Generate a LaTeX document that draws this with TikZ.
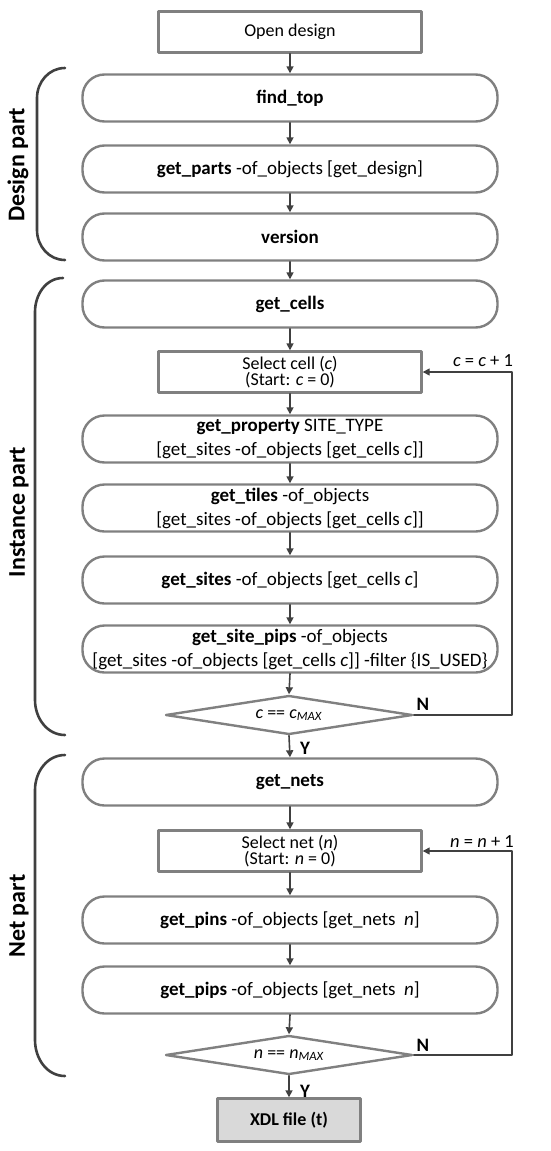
\documentclass[tikz,border=0pt]{standalone}
\usepackage{fontspec}
\setmainfont{Carlito}
\usetikzlibrary{arrows.meta,shapes.geometric}

\begin{document}
\begin{tikzpicture}[x=1pt, y=-1pt, line cap=round, line join=round,
  box/.style={draw=black!50, line width=2.4pt, minimum width=263pt, minimum height=41pt,
    inner sep=1pt, align=center, font=\fontsize{18}{15}\selectfont},
  pill/.style={draw=black!50, line width=2.4pt, rounded corners=22pt, minimum width=415pt,
    minimum height=47pt, inner sep=1pt, align=center, font=\fontsize{19}{24}\selectfont},
  test/.style={diamond, aspect=6.3, draw=black!50, line width=2.4pt, minimum width=247pt,
    minimum height=39pt, inner sep=0pt, font=\fontsize{18}{18}\selectfont},
  flow/.style={-{Triangle[length=7pt,width=7pt]}, draw=black!75, line width=1.6pt},
  brace/.style={draw=black!75, line width=2.6pt},
  part/.style={rotate=90, font=\bfseries\fontsize{24}{24}\selectfont},
  yesno/.style={font=\bfseries\fontsize{19}{19}\selectfont, inner sep=0pt},
  step label/.style={font=\fontsize{18.5}{18.5}\selectfont, inner sep=0pt}]
  \useasboundingbox (0,0) rectangle (550,1151);

  % --- Design part ---
  \node[box] (open) at (290,32) {Open design};
  \node[pill] (top) at (290,98) {\textbf{find\_top}};
  \node[pill] (parts) at (290,169) {\textbf{get\_parts} -of\_objects [get\_design]};
  \node[pill] (ver) at (290,237) {\textbf{version}};

  % --- Instance part ---
  \node[pill] (cells) at (290,304) {\textbf{get\_cells}};
  \node[box] (selc) at (290,372) {Select cell (\textit{c})\\(Start: \textit{c} = 0)};
  \node[pill] (prop) at (290,439) {\textbf{get\_property} SITE\_TYPE\\{[}get\_sites -of\_objects [get\_cells \textit{c}]]};
  \node[pill] (tiles) at (290,508) {\textbf{get\_tiles} -of\_objects\\{[}get\_sites -of\_objects [get\_cells \textit{c}]]};
  \node[pill] (sites) at (290,580) {\textbf{get\_sites} -of\_objects [get\_cells \textit{c}]};
  \node[pill] (spips) at (290,649) {\textbf{get\_site\_pips} -of\_objects\\{[}get\_sites -of\_objects [get\_cells \textit{c}]] -filter \{IS\_USED\}};
  \node[test] (cmax) at (289,715) {\textit{c} == \textit{c}\textsubscript{\textit{MAX}}};

  % --- Net part ---
  \node[pill] (nets) at (290,782) {\textbf{get\_nets}};
  \node[box] (seln) at (290,851) {Select net (\textit{n})\\(Start: \textit{n} = 0)};
  \node[pill] (pins) at (290,920) {\textbf{get\_pins} -of\_objects [get\_nets~~\textit{n}]};
  \node[pill] (pips) at (290,990) {\textbf{get\_pips} -of\_objects [get\_nets~~\textit{n}]};
  \node[test] (nmax) at (289,1055) {\textit{n} == \textit{n}\textsubscript{\textit{MAX}}};
  \node[box, fill=black!15, minimum width=143pt, minimum height=43pt] (xdl) at (289,1120) {\textbf{XDL file (t)}};

  % --- Pfeile ---
  \foreach \a/\b in {open/top, top/parts, parts/ver, ver/cells, cells/selc, selc/prop,
    prop/tiles, tiles/sites, sites/spips, spips/cmax, cmax/nets, nets/seln, seln/pins,
    pins/pips, pips/nmax, nmax/xdl}
    \draw[flow] (\a.south) -- (\b.north);

  % --- Schleifen ---
  \coordinate (cloop) at (512,372);
  \coordinate (nloop) at (512,851);
  \draw[flow, line width=1.4pt] (cmax.east) -| (cloop) -- (selc.east);
  \draw[flow, line width=1.4pt] (nmax.east) -| (nloop) -- (seln.east);
  \node[step label] (cinc) at (483,361) {\textit{c} = \textit{c} + 1};
  \node[step label] (ninc) at (482,842) {\textit{n} = \textit{n} + 1};
  \node[yesno] (cno) at (423,704) {N};
  \node[yesno] (cyes) at (305,748) {Y};
  \node[yesno] (nno) at (423,1045) {N};
  \node[yesno] (nyes) at (305,1091) {Y};

  % --- Klammern ---
  \draw[brace] (65,68) to[out=180,in=90] (37,98) -- (37,230) to[out=-90,in=180] (65,260);
  \draw[brace] (63,278) to[out=180,in=90] (35,312) -- (35,700) to[out=-90,in=180] (65,735);
  \draw[brace] (65,755) to[out=180,in=90] (35,790) -- (35,1040) to[out=-90,in=180] (65,1076);
  \node[part] (dpart) at (18,165) {Design part};
  \node[part] (ipart) at (19,512) {Instance part};
  \node[part] (npart) at (19,916) {Net part};
\end{tikzpicture}
\end{document}
